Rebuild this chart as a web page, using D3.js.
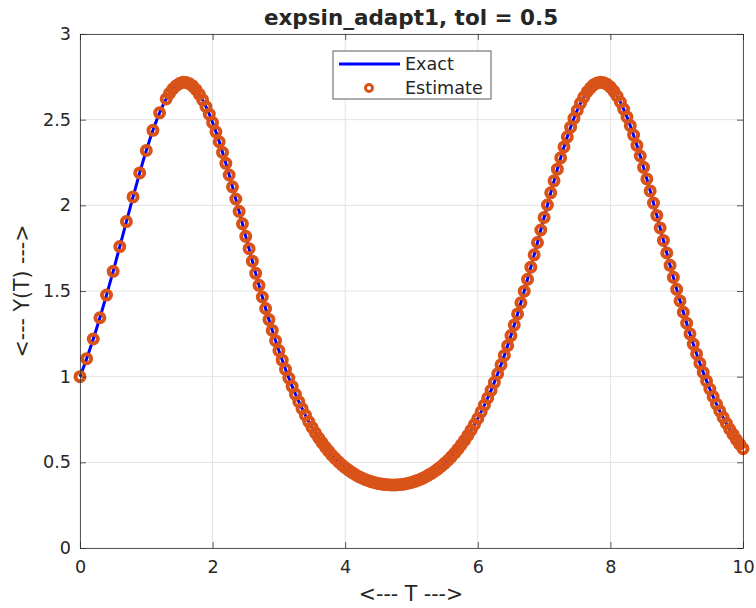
<!DOCTYPE html>
<html>
<head>
<meta charset="utf-8">
<script src="https://cdn.jsdelivr.net/npm/d3@7"></script>
<style>
  html, body { margin: 0; padding: 0; background: #fff; }
  #chart { width: 756px; height: 608px; }
  text { font-family: "DejaVu Sans", sans-serif; fill: #262626; }
</style>
</head>
<body>
<div id="chart"></div>
<script>
(function () {

    /* ── data ─────────────────────────────────────────────────────── */
    var TITLE   = "expsin_adapt1, tol = 0.5";
    var X_LABEL = "<--- T --->";
    var Y_LABEL = "<--- Y(T) --->";

    var xTicks = [0, 2, 4, 6, 8, 10];
    var yTicks = [0, 0.5, 1, 1.5, 2, 2.5, 3];

    // exact solution
    var exactT = [
        0.0, 0.1, 0.2, 0.3, 0.4, 0.5, 0.6, 0.7, 0.8, 0.9,
        1.0, 1.1, 1.2, 1.3, 1.4, 1.5, 1.6, 1.7, 1.8, 1.9,
        2.0, 2.1, 2.2, 2.3, 2.4, 2.5, 2.6, 2.7, 2.8, 2.9,
        3.0, 3.1, 3.2, 3.3, 3.4, 3.5, 3.6, 3.7, 3.8, 3.9,
        4.0, 4.1, 4.2, 4.3, 4.4, 4.5, 4.6, 4.7, 4.8, 4.9,
        5.0, 5.1, 5.2, 5.3, 5.4, 5.5, 5.6, 5.7, 5.8, 5.9,
        6.0, 6.1, 6.2, 6.3, 6.4, 6.5, 6.6, 6.7, 6.8, 6.9,
        7.0, 7.1, 7.2, 7.3, 7.4, 7.5, 7.6, 7.7, 7.8, 7.9,
        8.0, 8.1, 8.2, 8.3, 8.4, 8.5, 8.6, 8.7, 8.8, 8.9,
        9.0, 9.1, 9.2, 9.3, 9.4, 9.5, 9.6, 9.7, 9.8, 9.9,
        10.0
    ];
    var exactY = [
        1.000, 1.105, 1.220, 1.344, 1.476, 1.615, 1.759, 1.905, 2.049, 2.189,
        2.320, 2.438, 2.540, 2.621, 2.679, 2.711, 2.717, 2.696, 2.648, 2.576,
        2.483, 2.371, 2.245, 2.108, 1.965, 1.819, 1.674, 1.533, 1.398, 1.270,
        1.152, 1.043, 0.943, 0.854, 0.775, 0.704, 0.642, 0.589, 0.542, 0.503,
        0.469, 0.441, 0.418, 0.400, 0.386, 0.376, 0.370, 0.368, 0.369, 0.374,
        0.383, 0.396, 0.413, 0.435, 0.462, 0.494, 0.532, 0.577, 0.628, 0.688,
        0.756, 0.834, 0.920, 1.017, 1.124, 1.240, 1.366, 1.499, 1.639, 1.783,
        1.929, 2.073, 2.211, 2.341, 2.456, 2.555, 2.632, 2.686, 2.714, 2.715,
        2.690, 2.638, 2.562, 2.465, 2.350, 2.222, 2.084, 1.941, 1.795, 1.650,
        1.510, 1.376, 1.250, 1.133, 1.025, 0.928, 0.840, 0.762, 0.693, 0.633,
        0.580
    ];

    // adaptive estimate: coarse steps first, finer after t = 1.3
    var estT = [
        0.0, 0.1, 0.2, 0.3, 0.4, 0.5, 0.6, 0.7, 0.8, 0.9, 1.0, 1.1, 1.2, 1.3,
        1.35, 1.4, 1.45, 1.5, 1.55, 1.6, 1.65, 1.7, 1.75, 1.8, 1.85, 1.9, 1.95, 2.0,
        2.05, 2.1, 2.15, 2.2, 2.25, 2.3, 2.35, 2.4, 2.45, 2.5,
        2.55, 2.6, 2.65, 2.7, 2.75, 2.8, 2.85, 2.9, 2.95, 3.0,
        3.05, 3.1, 3.15, 3.2, 3.25, 3.3, 3.35, 3.4, 3.45, 3.5,
        3.55, 3.6, 3.65, 3.7, 3.75, 3.8, 3.85, 3.9, 3.95, 4.0,
        4.05, 4.1, 4.15, 4.2, 4.25, 4.3, 4.35, 4.4, 4.45, 4.5,
        4.55, 4.6, 4.65, 4.7, 4.75, 4.8, 4.85, 4.9, 4.95, 5.0,
        5.05, 5.1, 5.15, 5.2, 5.25, 5.3, 5.35, 5.4, 5.45, 5.5,
        5.55, 5.6, 5.65, 5.7, 5.75, 5.8, 5.85, 5.9, 5.95, 6.0,
        6.05, 6.1, 6.15, 6.2, 6.25, 6.3, 6.35, 6.4, 6.45, 6.5,
        6.55, 6.6, 6.65, 6.7, 6.75, 6.8, 6.85, 6.9, 6.95, 7.0,
        7.05, 7.1, 7.15, 7.2, 7.25, 7.3, 7.35, 7.4, 7.45, 7.5,
        7.55, 7.6, 7.65, 7.7, 7.75, 7.8, 7.85, 7.9, 7.95, 8.0,
        8.05, 8.1, 8.15, 8.2, 8.25, 8.3, 8.35, 8.4, 8.45, 8.5,
        8.55, 8.6, 8.65, 8.7, 8.75, 8.8, 8.85, 8.9, 8.95, 9.0,
        9.05, 9.1, 9.15, 9.2, 9.25, 9.3, 9.35, 9.4, 9.45, 9.5,
        9.55, 9.6, 9.65, 9.7, 9.75, 9.8, 9.85, 9.9, 9.95, 10.0
    ];
    var estY = [
        1.000, 1.105, 1.220, 1.344, 1.476, 1.615, 1.759, 1.905, 2.049, 2.189, 2.320, 2.438, 2.540, 2.621,
        2.653, 2.679, 2.698, 2.711, 2.718, 2.717, 2.710, 2.696, 2.675, 2.648, 2.615, 2.576, 2.532, 2.483,
        2.429, 2.371, 2.309, 2.245, 2.177, 2.108, 2.037, 1.965, 1.892, 1.819,
        1.747, 1.674, 1.603, 1.533, 1.465, 1.398, 1.333, 1.270, 1.210, 1.152,
        1.096, 1.043, 0.992, 0.943, 0.897, 0.854, 0.813, 0.775, 0.738, 0.704,
        0.672, 0.642, 0.615, 0.589, 0.565, 0.542, 0.522, 0.503, 0.485, 0.469,
        0.455, 0.441, 0.429, 0.418, 0.409, 0.400, 0.393, 0.386, 0.381, 0.376,
        0.373, 0.370, 0.369, 0.368, 0.368, 0.369, 0.371, 0.374, 0.378, 0.383,
        0.389, 0.396, 0.404, 0.413, 0.424, 0.435, 0.448, 0.462, 0.477, 0.494,
        0.512, 0.532, 0.553, 0.577, 0.602, 0.628, 0.657, 0.688, 0.721, 0.756,
        0.794, 0.834, 0.876, 0.920, 0.967, 1.017, 1.069, 1.124, 1.181, 1.240,
        1.302, 1.366, 1.431, 1.499, 1.568, 1.639, 1.711, 1.783, 1.856, 1.929,
        2.002, 2.073, 2.143, 2.211, 2.277, 2.341, 2.400, 2.456, 2.508, 2.555,
        2.597, 2.632, 2.663, 2.686, 2.704, 2.714, 2.718, 2.715, 2.706, 2.690,
        2.667, 2.638, 2.603, 2.562, 2.516, 2.465, 2.410, 2.350, 2.288, 2.222,
        2.154, 2.084, 2.013, 1.941, 1.868, 1.795, 1.722, 1.650, 1.580, 1.510,
        1.442, 1.376, 1.312, 1.250, 1.190, 1.133, 1.078, 1.025, 0.975, 0.928,
        0.883, 0.840, 0.800, 0.762, 0.727, 0.693, 0.663, 0.633, 0.606, 0.580
    ];

    var COLOR_EXACT = "#0000ff";
    var COLOR_EST   = "#d95319";

    /* ── layout ───────────────────────────────────────────────────── */
    var W = 756, H = 608;
    var margin = { top: 34, right: 13, bottom: 60, left: 80 };
    var iW = W - margin.left - margin.right;
    var iH = H - margin.top - margin.bottom;

    var svg = d3.select("#chart").append("svg")
        .attr("width", W).attr("height", H);

    var g = svg.append("g")
        .attr("transform", "translate(" + margin.left + "," + margin.top + ")");

    var xScale = d3.scaleLinear().domain([0, 10]).range([0, iW]);
    var yScale = d3.scaleLinear().domain([0, 3]).range([iH, 0]);

    // grid
    g.append("g").attr("class", "grid")
        .selectAll("line.gx").data(xTicks).enter().append("line")
        .attr("x1", function (d) { return xScale(d); })
        .attr("x2", function (d) { return xScale(d); })
        .attr("y1", 0).attr("y2", iH)
        .attr("stroke", "#e3e3e3").attr("stroke-width", 1);
    g.select(".grid")
        .selectAll("line.gy").data(yTicks).enter().append("line")
        .attr("x1", 0).attr("x2", iW)
        .attr("y1", function (d) { return yScale(d); })
        .attr("y2", function (d) { return yScale(d); })
        .attr("stroke", "#e3e3e3").attr("stroke-width", 1);

    // clip
    svg.append("defs").append("clipPath").attr("id", "clip-plot")
        .append("rect").attr("x", -8).attr("y", -8)
        .attr("width", iW + 16).attr("height", iH + 16);

    // exact line
    var exactData = exactT.map(function (t, i) { return { t: t, y: exactY[i] }; });
    var line = d3.line()
        .x(function (d) { return xScale(d.t); })
        .y(function (d) { return yScale(d.y); })
        .curve(d3.curveMonotoneX);

    g.append("path")
        .datum(exactData)
        .attr("d", line)
        .attr("fill", "none")
        .attr("stroke", COLOR_EXACT)
        .attr("stroke-width", 3);

    // estimate markers
    var estData = estT.map(function (t, i) { return { t: t, y: estY[i] }; });
    g.append("g").attr("clip-path", "url(#clip-plot)")
        .selectAll("circle").data(estData).enter().append("circle")
        .attr("cx", function (d) { return xScale(d.t); })
        .attr("cy", function (d) { return yScale(d.y); })
        .attr("r", 4.5)
        .attr("fill", "none")
        .attr("stroke", COLOR_EST)
        .attr("stroke-width", 4);

    /* ── axes ─────────────────────────────────────────────────────── */
    var TICK = 6;
    var AXIS_COLOR = "#262626";

    g.append("g").attr("class", "axis axis-x")
        .attr("transform", "translate(0," + iH + ")")
        .call(d3.axisBottom(xScale).tickValues(xTicks)
            .tickSizeInner(-TICK).tickSizeOuter(0).tickPadding(13)
            .tickFormat(d3.format("d")));
    g.append("g").attr("class", "axis axis-x-top")
        .call(d3.axisTop(xScale).tickValues(xTicks)
            .tickSizeInner(-TICK).tickSizeOuter(0).tickFormat(""));
    g.append("g").attr("class", "axis axis-y")
        .call(d3.axisLeft(yScale).tickValues(yTicks)
            .tickSizeInner(-TICK).tickSizeOuter(0).tickPadding(9)
            .tickFormat(function (v) { return String(v); }));
    g.append("g").attr("class", "axis axis-y-right")
        .attr("transform", "translate(" + iW + ",0)")
        .call(d3.axisRight(yScale).tickValues(yTicks)
            .tickSizeInner(-TICK).tickSizeOuter(0).tickFormat(""));

    g.selectAll(".axis path, .axis line")
        .attr("stroke", AXIS_COLOR)
        .attr("stroke-opacity", 0.75);
    g.selectAll(".axis text")
        .attr("fill", AXIS_COLOR)
        .style("font-family", "'DejaVu Sans', sans-serif")
        .style("font-size", "17.6px");

    /* ── labels ───────────────────────────────────────────────────── */
    svg.append("text")
        .attr("x", 411).attr("y", 25)
        .attr("text-anchor", "middle")
        .style("font-size", "21.5px").style("font-weight", "bold")
        .attr("fill", "#000")
        .text(TITLE);

    svg.append("text")
        .attr("x", 411).attr("y", 601)
        .attr("text-anchor", "middle")
        .style("font-size", "20.5px")
        .text(X_LABEL);

    svg.append("text")
        .attr("transform", "translate(29," + (margin.top + iH / 2) + ") rotate(-90)")
        .attr("text-anchor", "middle")
        .style("font-size", "20.5px")
        .text(Y_LABEL);

    /* ── legend ───────────────────────────────────────────────────── */
    var legend = svg.append("g").attr("transform", "translate(333,51)");
    legend.append("rect")
        .attr("width", 158).attr("height", 48)
        .attr("fill", "#fff")
        .attr("stroke", "#262626").attr("stroke-opacity", 0.75);
    legend.append("line")
        .attr("x1", 6).attr("x2", 67).attr("y1", 13).attr("y2", 13)
        .attr("stroke", COLOR_EXACT).attr("stroke-width", 3);
    legend.append("text").attr("x", 72).attr("y", 19)
        .style("font-size", "17.6px").text("Exact");
    legend.append("circle")
        .attr("cx", 36).attr("cy", 37).attr("r", 3.5)
        .attr("fill", "none").attr("stroke", COLOR_EST).attr("stroke-width", 3);
    legend.append("text").attr("x", 72).attr("y", 43)
        .style("font-size", "17.6px").text("Estimate");

}());
</script>
</body>
</html>
